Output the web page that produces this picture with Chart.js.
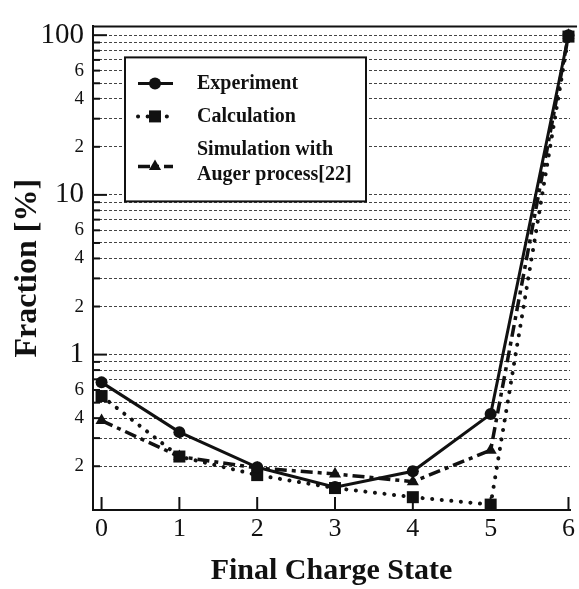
<!DOCTYPE html>
<html>
<head>
<meta charset="utf-8">
<script src="https://cdn.jsdelivr.net/npm/chart.js@4.4.0/dist/chart.umd.min.js"></script>
<style>
html, body { margin: 0; padding: 0; background: #fff; }
</style>
</head>
<body>
<canvas id="chart" width="579" height="589"></canvas>
<script>
// Final charge state vs fraction (%)
const chargeStates = [0, 1, 2, 3, 4, 5, 6];
const xTickLabels = ['0', '1', '2', '3', '4', '5', '6'];
const experiment = [0.67, 0.327, 0.197, 0.148, 0.186, 0.424, 100];
const calculation = [0.55, 0.23, 0.176, 0.146, 0.128, 0.115, 98];
const simulation = [0.386, 0.23, 0.195, 0.179, 0.16, 0.252, 100];

// log axis: grid at every 1..9 step, labels only at some
const yGridValues = [0.2, 0.3, 0.4, 0.5, 0.6, 0.7, 0.8, 0.9,
    1, 2, 3, 4, 5, 6, 7, 8, 9,
    10, 20, 30, 40, 50, 60, 70, 80, 90, 100];
const yLabelValues = [0.2, 0.4, 0.6, 1, 2, 4, 6, 10, 20, 40, 60, 100];
const yLabelTexts = ['2', '4', '6', '1', '2', '4', '6', '10', '2', '4', '6', '100'];
const yMajorValues = [1, 10, 100];

const serif = '"Liberation Serif", "Times New Roman", serif';
const ink = '#111';

function toPoints(values) {
    return chargeStates.map((x, i) => ({ x: x, y: values[i] }));
}

const seriesStyles = [
    { label: 'Experiment', data: experiment, dash: [], pointStyle: 'circle', radius: 6, lineWidth: 3, cap: 'butt' },
    { label: 'Calculation', data: calculation, dash: [0.1, 9.5], pointStyle: 'rect', radius: 8.5, lineWidth: 4, cap: 'round' },
    { label: 'Simulation with|Auger process[22]', data: simulation, dash: [12, 5, 4, 5], pointStyle: 'triangle', radius: 7, lineWidth: 3.5, cap: 'butt' }
];

const datasets = seriesStyles.map(s => ({
    label: s.label,
    data: toPoints(s.data),
    borderColor: ink,
    backgroundColor: ink,
    borderWidth: s.lineWidth,
    borderDash: s.dash,
    borderCapStyle: s.cap,
    pointStyle: s.pointStyle,
    pointRadius: s.radius,
    pointBorderWidth: 0,
    pointBackgroundColor: ink,
    fill: false,
    tension: 0,
    clip: false
}));

// frame, inside tick marks and boxed legend
const framePlugin = {
    id: 'frame',
    afterDraw(chart) {
        const ctx = chart.ctx;
        const area = chart.chartArea;
        const xs = chart.scales.x;
        const ys = chart.scales.y;
        ctx.save();
        ctx.strokeStyle = ink;
        ctx.lineWidth = 2;
        ctx.beginPath();
        ctx.moveTo(area.left, area.top);
        ctx.lineTo(area.right + 7, area.top);
        ctx.stroke();

        yGridValues.forEach(v => {
            const py = ys.getPixelForValue(v);
            const len = yMajorValues.includes(v) ? 14 : 7;
            ctx.beginPath();
            ctx.moveTo(area.left, py);
            ctx.lineTo(area.left + len, py);
            ctx.stroke();
        });
        chargeStates.forEach(v => {
            const px = xs.getPixelForValue(v);
            ctx.beginPath();
            ctx.moveTo(px, area.bottom);
            ctx.lineTo(px, area.bottom - 13);
            ctx.stroke();
        });

        // legend box
        const bx = area.left + 32, by = area.top + 31, bw = 241, bh = 144;
        ctx.fillStyle = '#fff';
        ctx.fillRect(bx, by, bw, bh);
        ctx.lineWidth = 2;
        ctx.strokeRect(bx, by, bw, bh);

        const rows = [26, 59, 109];
        ctx.font = 'bold 20px ' + serif;
        ctx.textBaseline = 'middle';
        seriesStyles.forEach((s, i) => {
            const cy = by + rows[i];
            const x0 = bx + 13, x1 = bx + 48, cx = bx + 30;
            ctx.save();
            ctx.lineWidth = s.lineWidth;
            ctx.lineCap = s.cap;
            ctx.setLineDash(s.dash);
            ctx.beginPath();
            ctx.moveTo(x0, cy);
            ctx.lineTo(x1, cy);
            ctx.stroke();
            ctx.restore();
            ctx.fillStyle = ink;
            Chart.helpers.drawPoint(ctx, { pointStyle: s.pointStyle, radius: s.radius, borderWidth: 0 }, cx, cy);
            ctx.fillStyle = ink;
            const lines = s.label.split('|');
            if (lines.length === 1) {
                ctx.fillText(lines[0], bx + 72, cy);
            } else {
                ctx.fillText(lines[0], bx + 72, cy - 17);
                ctx.fillText(lines[1], bx + 72, cy + 8);
            }
        });
        ctx.restore();
    }
};

new Chart(document.getElementById('chart').getContext('2d'), {
    type: 'line',
    data: { datasets: datasets },
    options: {
        responsive: false,
        devicePixelRatio: 1,
        animation: false,
        layout: { padding: { top: 17, right: 7, left: 0, bottom: 0 } },
        plugins: {
            legend: { display: false },
            tooltip: { enabled: false }
        },
        scales: {
            x: {
                type: 'linear',
                min: -0.11,
                max: 6.02,
                afterFit: scale => { scale.height = 79; },
                afterBuildTicks: scale => { scale.ticks = chargeStates.map(v => ({ value: v })); },
                ticks: {
                    callback: (v) => xTickLabels[chargeStates.indexOf(v)] ?? '',
                    color: ink,
                    font: { family: serif, size: 26 },
                    padding: 4,
                    maxRotation: 0,
                    autoSkip: false
                },
                grid: { display: false, drawTicks: false },
                border: { display: true, color: ink, width: 2 },
                title: {
                    display: true,
                    text: 'Final Charge State',
                    color: ink,
                    font: { family: serif, size: 30, weight: 'bold' },
                    padding: { top: 0, bottom: 0 }
                }
            },
            y: {
                type: 'logarithmic',
                min: 0.1064,
                max: 113.5,
                afterFit: scale => { scale.width = 93; },
                afterBuildTicks: scale => { scale.ticks = yGridValues.map(v => ({ value: v })); },
                ticks: {
                    callback: (v) => {
                        const i = yLabelValues.indexOf(v);
                        return i >= 0 ? yLabelTexts[i] : '';
                    },
                    color: ink,
                    font: (c) => ({
                        family: serif,
                        size: c.tick && yMajorValues.includes(c.tick.value) ? 29 : 19
                    }),
                    padding: 9,
                    autoSkip: false
                },
                grid: {
                    color: '#444',
                    lineWidth: 1,
                    drawTicks: false
                },
                border: { display: true, color: ink, width: 2, dash: [3, 2] },
                title: {
                    display: true,
                    text: 'Fraction [%]',
                    color: ink,
                    font: { family: serif, size: 32, weight: 'bold' },
                    padding: { top: 9, bottom: 0 }
                }
            }
        }
    },
    plugins: [framePlugin]
});
</script>
</body>
</html>
